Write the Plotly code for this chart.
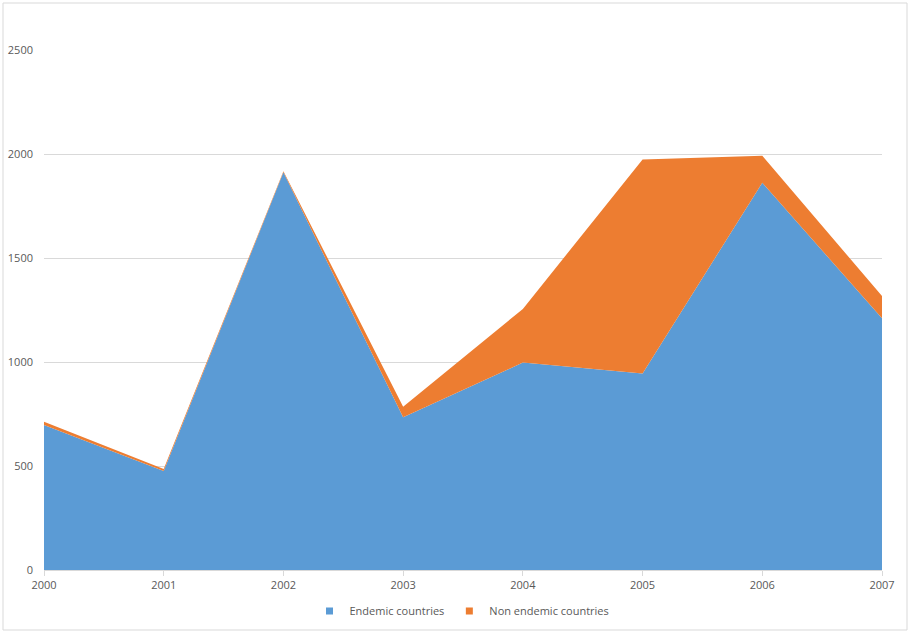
import plotly.graph_objects as go

years = ["2000", "2001", "2002", "2003", "2004", "2005", "2006", "2007"]
endemic = [697, 476, 1912, 734, 997, 945, 1862, 1210]
non_endemic = [16, 10, 5, 51, 258, 1029, 130, 107]
series_names = ["Endemic countries", "Non endemic countries"]
colors = ["#5B9BD5", "#ED7D31"]

W, H = 911, 634
L, R, T, B = 44, 29, 50, 64
pw, ph = W - L - R, H - T - B

def px(x):
    return (x - L) / pw

def py(y):
    return (H - B - y) / ph

fig = go.Figure()
for vals, name, c in zip([endemic, non_endemic], series_names, colors):
    fig.add_trace(go.Scatter(
        x=years, y=vals, name=name, stackgroup="one", showlegend=False,
        mode="lines", line=dict(width=0, color=c), fillcolor=c, hoverinfo="skip"))
for name, c in zip(series_names, colors):
    fig.add_trace(go.Scatter(
        x=[None], y=[None], name=name, mode="markers",
        marker=dict(symbol="square", size=7, color=c), showlegend=True))

font = dict(family="Open Sans, Liberation Sans, sans-serif", size=11, color="#595959")

fig.update_layout(
    width=W, height=H,
    margin=dict(l=L, r=R, t=T, b=B, autoexpand=False),
    paper_bgcolor="white", plot_bgcolor="white",
    font=font,
    showlegend=True,
    legend=dict(orientation="h", x=px(462), xanchor="center", y=py(611), yanchor="middle",
                font=dict(size=11, color="#595959"), itemwidth=30, traceorder="normal"),
    xaxis=dict(type="category", range=[0, 7], showgrid=False, showline=True,
               linecolor="#D9D9D9", linewidth=1, ticks="outside", ticklen=5,
               tickcolor="#D9D9D9", tickfont=font, zeroline=False, automargin=False),
    yaxis=dict(range=[0, 2500], dtick=500, showgrid=True, gridcolor="#D9D9D9",
               gridwidth=1, showline=False, zeroline=False, tickfont=font,
               ticks="", ticklabelstandoff=10, automargin=False),
    shapes=[dict(type="rect", xref="paper", yref="paper",
                 x0=px(3), x1=px(907), y0=py(630), y1=py(3),
                 line=dict(color="#D9D9D9", width=1), layer="below")],
)

fig.write_html("out.html", config={"displayModeBar": False},
               post_script="document.body.style.margin='0px';document.body.style.overflow='hidden';")
